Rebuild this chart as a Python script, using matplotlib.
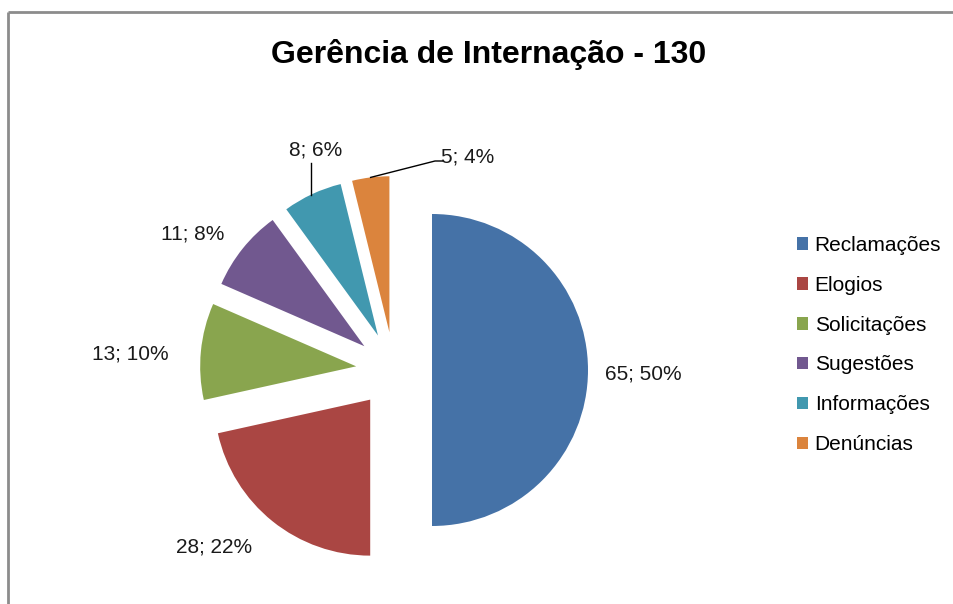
import numpy as np
import matplotlib.pyplot as plt

plt.rcParams['font.family'] = ['Liberation Sans', 'DejaVu Sans']

# data
categories = ['Reclamações', 'Elogios', 'Solicitações', 'Sugestões', 'Informações', 'Denúncias']
values     = [65, 28, 13, 11, 8, 5]
colors     = ['#4572A7', '#AA4643', '#89A54E', '#71588F', '#4198AF', '#DB843D']
title      = 'Gerência de Internação - 130'

W, H = 954, 604
fig = plt.figure(figsize=(W / 100, H / 100), dpi=100)
ax = fig.add_axes([0, 0, 1, 1])

cx, cy, R = 394, H - 370, 156
# explode is in data units here (radius is not 1)
wedges, _ = ax.pie(values, colors=colors, startangle=90, counterclock=False,
                   explode=[38] * len(values), center=(cx, cy), radius=R,
                   wedgeprops=dict(linewidth=0), frame=True)
ax.set_xlim(0, W)
ax.set_ylim(0, H)
ax.set_aspect('auto')
ax.axis('off')

# chart border (left and top visible)
ax.plot([8, 8], [0, H - 12], color='#8c8c8c', lw=2, solid_capstyle='butt')
ax.plot([8, W], [H - 12, H - 12], color='#8c8c8c', lw=2, solid_capstyle='butt')

ax.text(489, H - 54, title, ha='center', va='center', fontsize=23, fontweight='bold')

# data labels (manually placed like in the original)
total = sum(values)
label_pos = [(643, 374), (214, 547), (130, 354), (193, 234), (316, 150), (468, 157)]
for v, (lx, ly) in zip(values, label_pos):
    ax.text(lx, H - ly, '%d; %d%%' % (v, round(100 * v / total)),
            ha='center', va='center', fontsize=15, color='#1a1a1a')

# leader lines for the two small slices
def arc_point(w, ang):
    x0, y0 = w.center
    return x0 + R * np.cos(np.radians(ang)), y0 + R * np.sin(np.radians(ang))

px, py = arc_point(wedges[4], 115.4)
ax.plot([px, px], [py, H - 163], color='black', lw=1)
mid = (wedges[5].theta1 + wedges[5].theta2) / 2
px, py = arc_point(wedges[5], mid)
ax.plot([px, 435, 443], [py, H - 161, H - 161], color='black', lw=1)

leg = ax.legend(wedges, categories, loc='upper left', bbox_to_anchor=(797 / W, 1 - 236 / H),
                frameon=False, fontsize=15, handlelength=0.55, handleheight=0.55,
                handletextpad=0.3, labelspacing=1.0, borderpad=0, borderaxespad=0)

fig.savefig('out.png', dpi=100)
